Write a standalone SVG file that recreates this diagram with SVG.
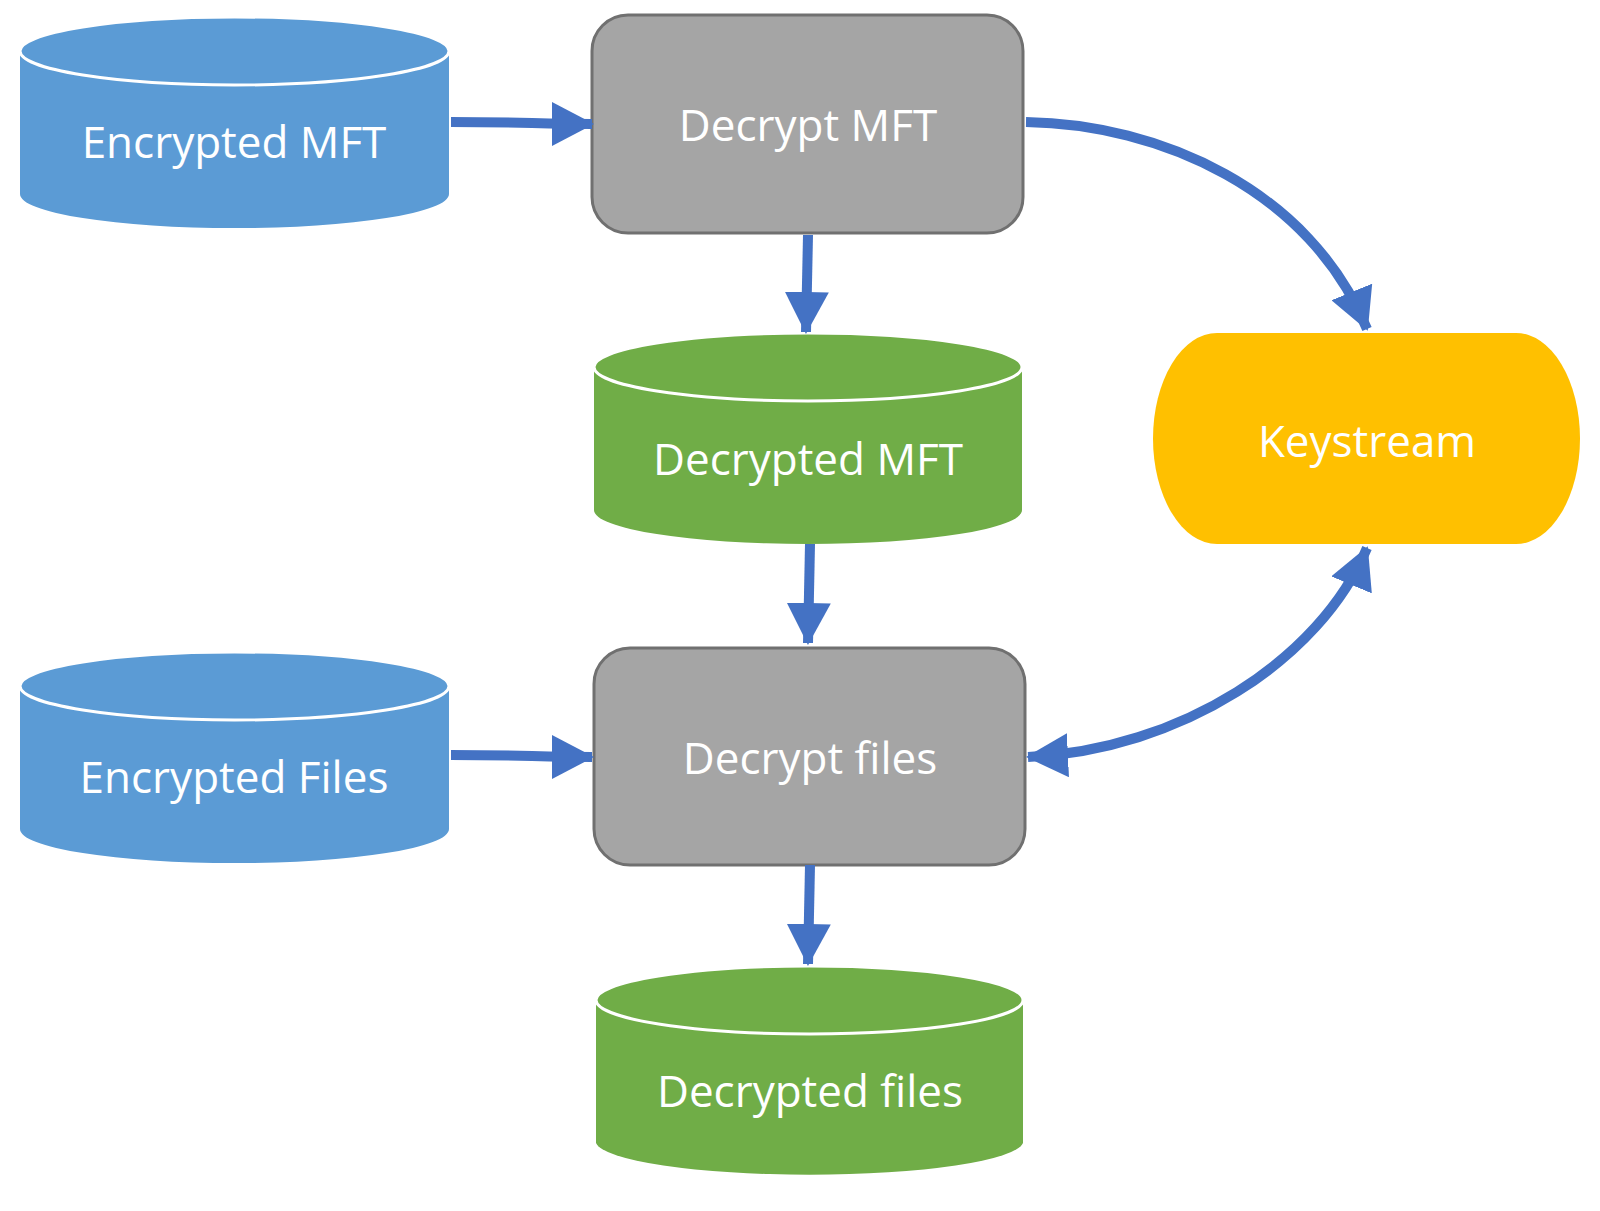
<svg xmlns="http://www.w3.org/2000/svg" width="1600" height="1211" viewBox="0 0 1600 1211">
<style>
.lbl{font-family:"Open Sans","Liberation Sans",sans-serif;font-size:44px;fill:#fff;text-anchor:middle;dominant-baseline:central}
.blue{fill:#5B9BD5}.green{fill:#70AD47}
.top{stroke:#fff;stroke-width:3}
.proc{fill:#A5A5A5;stroke:#707070;stroke-width:3}
.c{fill:none;stroke:#4472C4;stroke-width:10}
</style>
<defs>
<marker id="ah" markerUnits="userSpaceOnUse" markerWidth="44" markerHeight="44" refX="40" refY="22" orient="auto-start-reverse" viewBox="0 0 44 44">
<path d="M0,0 L42,22 L0,44 z" fill="#4472C4"/>
</marker>
</defs>
<rect width="1600" height="1211" fill="#fff"/>
<g id="encrypted-mft">
<path class="blue" d="M20,51 V194 A214,34 0 0 0 449,194 V51 z"/>
<ellipse class="blue top" cx="234.5" cy="51" rx="214.5" ry="34"/>
<text class="lbl" x="234" y="141">Encrypted MFT</text>
</g>
<g id="decrypt-mft">
<rect class="proc" x="592" y="15" width="431" height="218" rx="36"/>
<text class="lbl" x="808" y="124">Decrypt MFT</text>
</g>
<g id="decrypted-mft">
<path class="green" d="M594,367 V510 A214,34 0 0 0 1022,510 V367 z"/>
<ellipse class="green top" cx="808" cy="367" rx="214" ry="34"/>
<text class="lbl" x="808" y="458">Decrypted MFT</text>
</g>
<g id="keystream">
<path d="M1217,333 H1516 A64,105.5 0 0 1 1516,544 H1217 A64,105.5 0 0 1 1217,333 z" fill="#FFC000"/>
<text class="lbl" x="1367" y="440">Keystream</text>
</g>
<g id="encrypted-files">
<path class="blue" d="M20,686 V829 A214,34 0 0 0 449,829 V686 z"/>
<ellipse class="blue top" cx="234.5" cy="686" rx="214.5" ry="34"/>
<text class="lbl" x="234" y="776">Encrypted Files</text>
</g>
<g id="decrypt-files">
<rect class="proc" x="594" y="648" width="431" height="217" rx="36"/>
<text class="lbl" x="810" y="757">Decrypt files</text>
</g>
<g id="decrypted-files">
<path class="green" d="M596,1000 V1143 A214,34 0 0 0 1023,1143 V1000 z"/>
<ellipse class="green top" cx="809.5" cy="1000" rx="213.5" ry="34"/>
<text class="lbl" x="810" y="1090">Decrypted files</text>
</g>
<g id="connectors">
<path class="c" d="M451,122 C520,122 540,124 592,124" marker-end="url(#ah)"/>
<path class="c" d="M808,235 L806,332" marker-end="url(#ah)"/>
<path class="c" d="M810,544 L808,643" marker-end="url(#ah)"/>
<path class="c" d="M451,755 C520,755 540,757 592,757" marker-end="url(#ah)"/>
<path class="c" d="M810,865 L808,964" marker-end="url(#ah)"/>
<path class="c" d="M1026,122 C1160,124 1310,190 1367,329" marker-end="url(#ah)"/>
<path class="c" d="M1367,548 C1320,660 1180,750 1028,757" marker-start="url(#ah)" marker-end="url(#ah)"/>
</g>
</svg>
